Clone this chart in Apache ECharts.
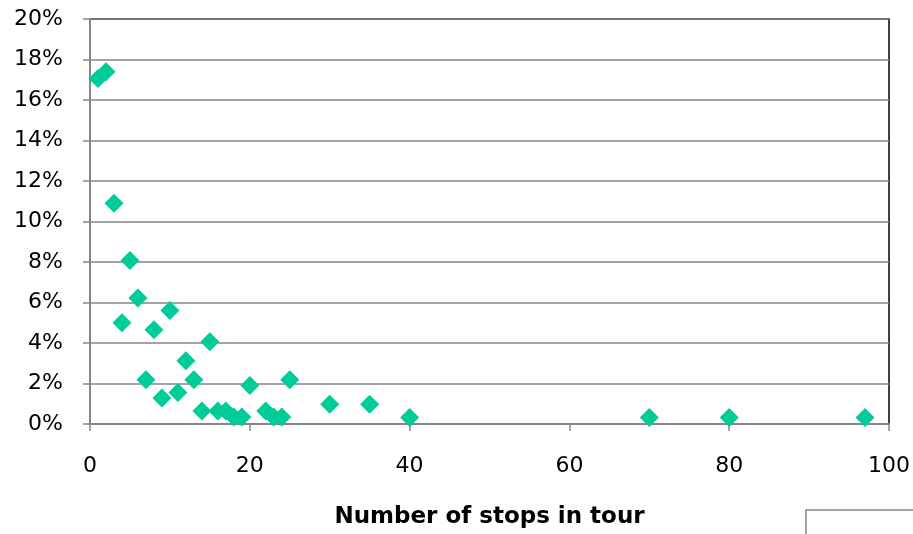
<!DOCTYPE html>
<html><head><meta charset="utf-8">
<script src="https://cdn.jsdelivr.net/npm/echarts@6/dist/echarts.min.js"></script>
<style>html,body{margin:0;padding:0;background:#fff}#c{width:913px;height:534px}</style>
</head><body><div id="c"></div>
<script>
const stops = [1, 2, 3, 4, 5, 6, 7, 8, 9, 10, 11, 12, 13, 14, 15, 16, 17, 18, 19, 20, 22, 23, 24, 25, 30, 35, 40, 70, 80, 97];
const share = [0.1706, 0.1739, 0.1090, 0.0500, 0.0807, 0.0622, 0.0218, 0.0466, 0.0128, 0.0560, 0.0156, 0.0312, 0.0218, 0.0064, 0.0406, 0.0064, 0.0064, 0.0035, 0.0035, 0.0190, 0.0064, 0.0035, 0.0035, 0.0218, 0.0097, 0.0097, 0.0032, 0.0032, 0.0032, 0.0032];
const xTicks = [0, 20, 40, 60, 80, 100];
const yTicks = [0, 0.02, 0.04, 0.06, 0.08, 0.10, 0.12, 0.14, 0.16, 0.18, 0.20];
const xTitle = 'Number of stops in tour';

const chart = echarts.init(document.getElementById('c'), null, {renderer: 'canvas'});
const font = 'DejaVu Sans';
chart.setOption({
  animation: false,
  grid: {left: 90, right: 20, top: 19, bottom: 110, show: true, borderColor: '#000', borderWidth: 1.5, backgroundColor: '#fff'},
  xAxis: {
    type: 'value', min: xTicks[0], max: xTicks[xTicks.length - 1], interval: 20,
    name: xTitle, nameLocation: 'middle', nameGap: 82,
    nameTextStyle: {fontFamily: font, fontWeight: 'bold', fontSize: 23, color: '#000'},
    axisLine: {show: true, onZero: false, lineStyle: {color: '#868686', width: 2}},
    axisTick: {show: true, inside: false, length: 7, lineStyle: {color: '#868686', width: 1.5}},
    axisLabel: {fontFamily: font, fontSize: 22, color: '#000', margin: 31},
    splitLine: {show: false}
  },
  yAxis: {
    type: 'value', min: yTicks[0], max: yTicks[yTicks.length - 1], interval: 0.02,
    axisLine: {show: true, onZero: false, lineStyle: {color: '#868686', width: 2}},
    axisTick: {show: true, inside: false, length: 7, lineStyle: {color: '#868686', width: 1.5}},
    axisLabel: {fontFamily: font, fontSize: 22, color: '#000', margin: 27,
      formatter: v => Math.round(v * 100) + '%'},
    splitLine: {show: true, lineStyle: {color: '#868686', width: 1.5}}
  },
  series: [{
    type: 'scatter', symbol: 'diamond', symbolSize: [19, 19],
    itemStyle: {color: '#00CC99', opacity: 1},
    data: stops.map((s, i) => [s, share[i]])
  }],
  graphic: [{
    type: 'rect', shape: {x: 806, y: 510, width: 140, height: 60},
    style: {fill: 'none', stroke: '#888', lineWidth: 1.5}
  }]
});
</script></body></html>
